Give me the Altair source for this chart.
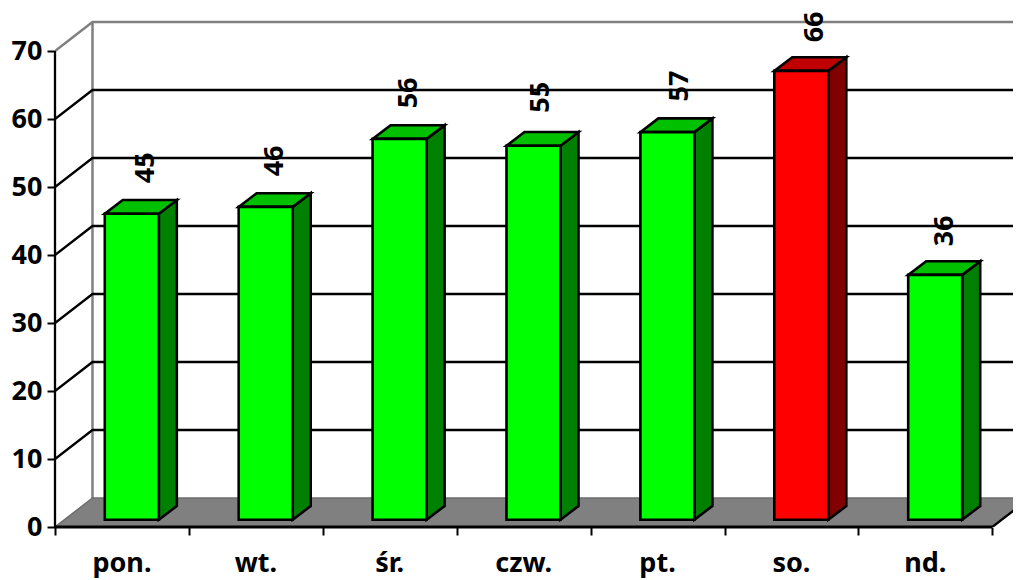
import altair as alt
import pandas as pd

days = ["pon.", "wt.", "śr.", "czw.", "pt.", "so.", "nd."]
values = [45, 46, 56, 55, 57, 66, 36]
front_colors = ["#00ff00"] * 5 + ["#ff0000"] + ["#00ff00"]
side_colors = ["#008000"] * 5 + ["#800000"] + ["#008000"]
top_colors = ["#00c000"] * 5 + ["#c00000"] + ["#00c000"]
y_ticks = [0, 10, 20, 30, 40, 50, 60, 70]
x_ticks = [0, 1, 2, 3, 4, 5, 6, 7]
grid_values = [10, 20, 30, 40, 50, 60]
label_shift_x = [14, 9.5, 9, 7.5, 12.5, 14, 9.5]
label_shift_y = [46, 46, 46, 48.5, 46, 44, 44]

FONT = "Noto Sans"
FS = 27
# Scale set-up: one x unit is one category, one y unit is one value.
W, H = 958, 519
STEP = 133.9
UNIT = 6.8
XMAX = W / STEP
YMAX = H / UNIT
WALL_DX = 37.5 / STEP      # depth of the chart box
WALL_DY = 29 / UNIT
BAR_DX = 18 / STEP         # depth of a bar
BAR_DY = 13.7 / UNIT
BAR_X0 = 49.8 / STEP       # offset of a bar inside its category
BAR_W = 54 / STEP
BAR_Y0 = 7.3 / UNIT
EDGE = 2.6
GRID = 2.3

xs = alt.Scale(domain=[0, XMAX], nice=False, zero=False)
ys = alt.Scale(domain=[0, YMAX], nice=False, zero=False)
x_axis = alt.Axis(values=x_ticks, labels=False, domain=False, grid=False, ticks=True,
                  tickSize=8, tickWidth=2, tickColor="black", title=None)
y_axis = alt.Axis(values=y_ticks, domain=False, grid=False, ticks=True, tickSize=8, tickWidth=2,
                  tickColor="black", labelFont=FONT, labelFontSize=FS, labelFontWeight="bold",
                  labelColor="black", labelPadding=5, title=None)
X = lambda f="x": alt.X(f"{f}:Q", scale=xs, axis=x_axis)
Y = lambda f="y": alt.Y(f"{f}:Q", scale=ys, axis=y_axis, stack=None)

front, side, top, labels = [], [], [], []
for i, (d, v) in enumerate(zip(days, values)):
    x0 = i + BAR_X0
    x1 = x0 + BAR_W
    yv = BAR_Y0 + v
    front.append(dict(day=d, x=x0, x2=x1, y=BAR_Y0, y2=yv, c=front_colors[i]))
    side.append(dict(day=d, x=x1, y=BAR_Y0, y2=yv, c=side_colors[i]))
    side.append(dict(day=d, x=x1 + BAR_DX, y=BAR_Y0 + BAR_DY, y2=yv + BAR_DY, c=side_colors[i]))
    top.append(dict(day=d, y=yv, x=x0, x2=x1, c=top_colors[i]))
    top.append(dict(day=d, y=yv + BAR_DY, x=x0 + BAR_DX, x2=x1 + BAR_DX, c=top_colors[i]))
    labels.append(dict(day=d, v=str(v), x=x0 + BAR_W / 2 + label_shift_x[i] / STEP,
                       y=yv + label_shift_y[i] / UNIT, cx=i + 0.5))

floor = alt.Chart(pd.DataFrame([
    dict(y=0, x=0, x2=7), dict(y=WALL_DY, x=WALL_DX, x2=7 + WALL_DX),
])).mark_area(orient="horizontal", color="#808080", clip=True).encode(
    x=X(), x2="x2:Q", y=Y())

grid_rows = []
for v in grid_values + [70]:
    grid_rows += [dict(k=v, o=0, x=0, y=v), dict(k=v, o=1, x=WALL_DX, y=v + WALL_DY),
                  dict(k=v, o=2, x=XMAX, y=v + WALL_DY)]
grid_df = pd.DataFrame(grid_rows)
grid = alt.Chart(grid_df[grid_df.k < 70]).mark_line(color="black", strokeWidth=GRID, clip=True).encode(
    x=X(), y=Y(), detail="k:N", order="o:Q")
top_wall = alt.Chart(grid_df[grid_df.k == 70]).mark_line(color="#808080", strokeWidth=2.5, clip=True).encode(
    x=X(), y=Y(), detail="k:N", order="o:Q")

wall_edge = alt.Chart(pd.DataFrame([
    dict(o=0, x=WALL_DX, y=WALL_DY), dict(o=1, x=WALL_DX, y=70 + WALL_DY),
])).mark_line(color="#808080", strokeWidth=2.5).encode(x=X(), y=Y(), order="o:Q")
wall_foot = alt.Chart(pd.DataFrame([
    dict(o=0, x=0, y=0), dict(o=1, x=WALL_DX, y=WALL_DY), dict(o=2, x=XMAX, y=WALL_DY),
])).mark_line(color="#6e6e6e", strokeWidth=1.5, clip=True).encode(x=X(), y=Y(), order="o:Q")
floor_right = alt.Chart(pd.DataFrame([
    dict(o=0, x=7, y=0), dict(o=1, x=7 + WALL_DX, y=WALL_DY),
])).mark_line(color="black", strokeWidth=GRID, clip=True).encode(x=X(), y=Y(), order="o:Q")

y_line = alt.Chart(pd.DataFrame([dict(o=0, x=0, y=0), dict(o=1, x=0, y=70)])).mark_line(
    color="black", strokeWidth=GRID).encode(x=X(), y=Y(), order="o:Q")
x_line = alt.Chart(pd.DataFrame([dict(o=0, x=0, y=0), dict(o=1, x=7, y=0)])).mark_line(
    color="black", strokeWidth=3).encode(x=X(), y=Y(), order="o:Q")

bar_front = alt.Chart(pd.DataFrame(front)).mark_rect(stroke="black", strokeWidth=EDGE).encode(
    x=X(), x2="x2:Q", y=Y(), y2="y2:Q", fill=alt.Fill("c:N", scale=None))
bar_side = alt.Chart(pd.DataFrame(side)).mark_area(stroke="black", strokeWidth=EDGE).encode(
    x=X(), y=Y(), y2="y2:Q", fill=alt.Fill("c:N", scale=None), detail="day:N")
bar_top = alt.Chart(pd.DataFrame(top)).mark_area(orient="horizontal", stroke="black", strokeWidth=EDGE).encode(
    x=X(), x2="x2:Q", y=Y(), fill=alt.Fill("c:N", scale=None), detail="day:N")

value_text = alt.Chart(pd.DataFrame(labels)).mark_text(
    angle=270, font=FONT, fontSize=FS, fontWeight="bold", color="black",
    align="center", baseline="middle").encode(x=X(), y=Y(), text="v:N")
day_text = alt.Chart(pd.DataFrame(labels)).mark_text(
    font=FONT, fontSize=FS, fontWeight="bold", color="black",
    align="center", baseline="alphabetic").encode(x=X("cx"), y=alt.value(564), text="day:N")

chart = alt.layer(
    wall_edge, top_wall, grid, floor, wall_foot, floor_right,
    y_line, x_line, bar_side, bar_top, bar_front, value_text, day_text,
).properties(
    width=W, height=H,
    autosize=alt.AutoSizeParams(type="none"),
    padding={"left": 47, "top": 0, "right": 0, "bottom": 53},
    background="white",
).configure_view(stroke=None)

chart.save("out.html", embed_options={"renderer": "svg", "actions": False})
